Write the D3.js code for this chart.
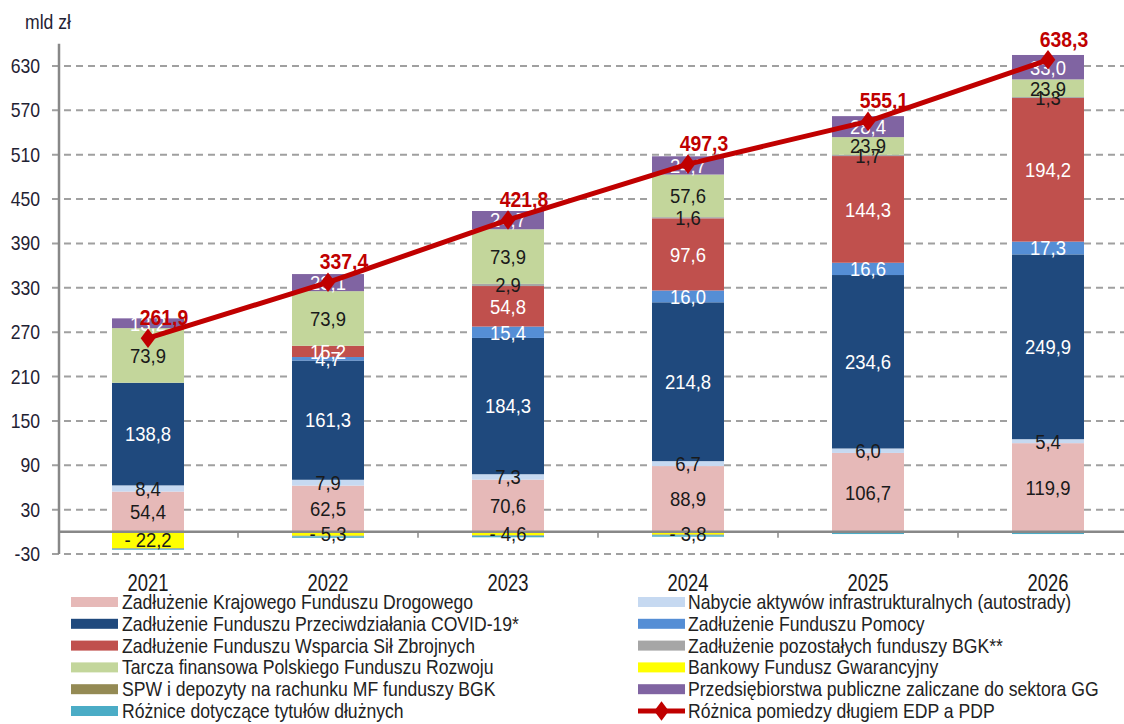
<!DOCTYPE html>
<html>
<head>
<meta charset="utf-8">
<script src="https://cdn.jsdelivr.net/npm/d3@7"></script>
<style>
  html, body { margin: 0; padding: 0; background: #fff; }
  svg { display: block; font-family: "Liberation Sans", Arial, sans-serif; }
</style>
</head>
<body>
<svg id="chart" width="1124" height="724"></svg>
<script>
// ---------------- DATA ----------------
const years = ["2021", "2022", "2023", "2024", "2025", "2026"];
const kfd        = [54.4, 62.5, 70.6, 88.9, 106.7, 119.9];
const autostrady = [8.4, 7.9, 7.3, 6.7, 6.0, 5.4];
const covid      = [138.8, 161.3, 184.3, 214.8, 234.6, 249.9];
const pomoc      = [0, 4.7, 15.4, 16.0, 16.6, 17.3];
const fwsz       = [0, 15.2, 54.8, 97.6, 144.3, 194.2];
const bgkOther   = [0, 0, 2.9, 1.6, 1.7, 1.3];
const tarcza     = [73.9, 73.9, 73.9, 57.6, 23.9, 23.9];
const bfg        = [-22.2, -5.3, -4.6, -3.8, 0, 0];
const spw        = [-0.8, -0.8, -0.8, -0.8, -1.5, -1.5];
const gg         = [13.2, 23.1, 24.7, 24.7, 28.4, 33.0];
const roznice    = [-1.2, -2.0, -2.0, -2.0, -1.5, -1.5];
const edpPdp     = [261.9, 337.4, 421.8, 497.3, 555.1, 638.3];
const yTicks     = [-30, 30, 90, 150, 210, 270, 330, 390, 450, 510, 570, 630];

const series = [
  { key: "kfd", values: kfd, name: "Zadłużenie Krajowego Funduszu Drogowego", color: "#E6B9B8", label: "dark" },
  { key: "autostrady", values: autostrady, name: "Nabycie aktywów infrastrukturalnych (autostrady)", color: "#C6D9F1", label: "dark" },
  { key: "covid", values: covid, name: "Zadłużenie Funduszu Przeciwdziałania COVID-19*", color: "#1F497D", label: "light" },
  { key: "pomoc", values: pomoc, name: "Zadłużenie Funduszu Pomocy", color: "#558ED5", label: "light" },
  { key: "fwsz", values: fwsz, name: "Zadłużenie Funduszu Wsparcia Sił Zbrojnych", color: "#C0504D", label: "light" },
  { key: "bgkOther", values: bgkOther, name: "Zadłużenie pozostałych funduszy BGK**", color: "#A6A6A6", label: "dark" },
  { key: "tarcza", values: tarcza, name: "Tarcza finansowa Polskiego Funduszu Rozwoju", color: "#C3D69B", label: "dark" },
  { key: "bfg", values: bfg, name: "Bankowy Fundusz Gwarancyjny", color: "#FFFF00", label: "dark" },
  { key: "spw", values: spw, name: "SPW i depozyty na rachunku MF funduszy BGK", color: "#948A54", label: "none" },
  { key: "gg", values: gg, name: "Przedsiębiorstwa publiczne zaliczane do sektora GG", color: "#8064A2", label: "light" },
  { key: "roznice", values: roznice, name: "Różnice dotyczące tytułów dłużnych", color: "#4BACC6", label: "none" }
];
const lineName = "Różnica pomiedzy długiem EDP a PDP";

const legendLeft  = ["kfd", "covid", "fwsz", "tarcza", "spw", "roznice"];
const legendRight = ["autostrady", "pomoc", "bgkOther", "bfg", "gg", "__line"];

// ---------------- SETUP ----------------
const W = 1124, H = 724;
const svg = d3.select("#chart");
svg.append("rect").attr("width", W).attr("height", H).attr("fill", "#fff");

const x = d3.scaleBand().domain(years).range([58, 1138]).paddingInner(0.6).paddingOuter(0.3);
// y(-30)=554, y(630)=66
const y = d3.scaleLinear().domain([-30, 660]).range([554, 554 - 690 * (488 / 660)]);

const fmt = v => {
  const s = Math.abs(v).toFixed(1).replace(".", ",");
  return v < 0 ? "- " + s : s;
};

function txt(parent, str, px, py, o) {
  return parent.append("text")
    .attr("transform", `translate(${px},${py}) scale(${o.sx || 0.86},1)`)
    .attr("text-anchor", o.anchor || "middle")
    .attr("dy", o.dy || "0.35em")
    .attr("font-size", o.size || 20)
    .attr("font-weight", o.weight || "normal")
    .attr("fill", o.fill || "#222")
    .text(str);
}

// gridlines
svg.append("g").selectAll("line").data(yTicks).join("line")
  .attr("x1", 52).attr("x2", W)
  .attr("y1", d => y(d)).attr("y2", d => y(d))
  .attr("stroke", "#A0A0A0").attr("stroke-width", 2)
  .attr("stroke-dasharray", "7,5");

// y axis line
svg.append("line").attr("x1", 59).attr("x2", 59)
  .attr("y1", y(660)).attr("y2", y(-30))
  .attr("stroke", "#888").attr("stroke-width", 2.5);

// y tick labels
yTicks.forEach(t => txt(svg, String(t), 40, y(t), { anchor: "end", size: 20, sx: 0.88, fill: "#1f2233" }));
txt(svg, "mld zł", 25, 22, { anchor: "start", size: 20, sx: 0.88, fill: "#1f2233" });

// ---------------- BARS ----------------
const table = years.map((yr, i) => {
  const row = { year: yr };
  series.forEach(s => row[s.key] = s.values[i]);
  return row;
});
const stacked = d3.stack().keys(series.map(s => s.key)).offset(d3.stackOffsetDiverging)(table);

const barsG = svg.append("g");
stacked.forEach((layer, li) => {
  const s = series[li];
  barsG.append("g").selectAll("rect").data(layer).join("rect")
    .attr("x", d => x(d.data.year))
    .attr("width", x.bandwidth())
    .attr("y", d => y(Math.max(d[0], d[1])))
    .attr("height", d => Math.abs(y(d[0]) - y(d[1])))
    .attr("fill", s.color);
});

// zero axis line and category ticks
svg.append("line").attr("x1", 59).attr("x2", W)
  .attr("y1", y(0)).attr("y2", y(0))
  .attr("stroke", "#888").attr("stroke-width", 2.5);
const bounds = years.slice(1).map(yr => x(yr) - x.step() * x.paddingInner() / 2);
svg.append("g").selectAll("line").data(bounds).join("line")
  .attr("x1", d => d).attr("x2", d => d)
  .attr("y1", y(0)).attr("y2", y(0) + 6)
  .attr("stroke", "#888").attr("stroke-width", 1.5);

// segment labels
const labelsG = svg.append("g");
stacked.forEach((layer, li) => {
  const s = series[li];
  if (s.label === "none") return;
  layer.forEach((d, i) => {
    const v = s.values[i];
    if (v === 0) return;
    const cy = y((d[0] + d[1]) / 2);
    txt(labelsG, fmt(v), x(d.data.year) + x.bandwidth() / 2, cy,
      { size: 21, sx: 0.88, fill: s.label === "light" ? "#ffffff" : "#1a1a1a" });
  });
});

// year labels
years.forEach(yr => txt(svg, yr, x(yr) + x.bandwidth() / 2, 583, { size: 23, sx: 0.8, fill: "#1a1a1a" }));

// ---------------- LINE ----------------
const lineGen = d3.line().x((d, i) => x(years[i]) + x.bandwidth() / 2).y(d => y(d));
svg.append("path").datum(edpPdp).attr("d", lineGen)
  .attr("fill", "none").attr("stroke", "#C00000").attr("stroke-width", 5)
  .attr("stroke-linejoin", "round");
const diamond = d3.symbol().type(d3.symbolDiamond).size(110);
svg.append("g").selectAll("path").data(edpPdp).join("path")
  .attr("d", diamond)
  .attr("transform", (d, i) => `translate(${x(years[i]) + x.bandwidth() / 2},${y(d)}) scale(1.3,1)`)
  .attr("fill", "#C00000");
edpPdp.forEach((v, i) => {
  txt(svg, fmt(v), x(years[i]) + x.bandwidth() / 2 + 16, y(v) - 21,
    { size: 22, sx: 0.88, weight: "bold", fill: "#C00000" });
});

// ---------------- LEGEND ----------------
const legG = svg.append("g");
const rowY = i => 602 + i * 21.8;
function legendItem(key, i, sx0, tx0) {
  const cy = rowY(i);
  if (key === "__line") {
    legG.append("line").attr("x1", sx0).attr("x2", sx0 + 47).attr("y1", cy).attr("y2", cy)
      .attr("stroke", "#C00000").attr("stroke-width", 5);
    legG.append("path").attr("d", diamond)
      .attr("transform", `translate(${sx0 + 23.5},${cy}) scale(1.3,1)`).attr("fill", "#C00000");
    txt(legG, lineName, tx0, cy, { anchor: "start", size: 20, sx: 0.88 });
    return;
  }
  const s = series.find(d => d.key === key);
  legG.append("rect").attr("x", sx0).attr("y", cy - 5).attr("width", 47).attr("height", 10).attr("fill", s.color);
  txt(legG, s.name, tx0, cy, { anchor: "start", size: 20, sx: 0.88 });
}
legendLeft.forEach((k, i) => legendItem(k, i, 71, 122));
legendRight.forEach((k, i) => legendItem(k, i, 638, 688));
</script>
</body>
</html>
